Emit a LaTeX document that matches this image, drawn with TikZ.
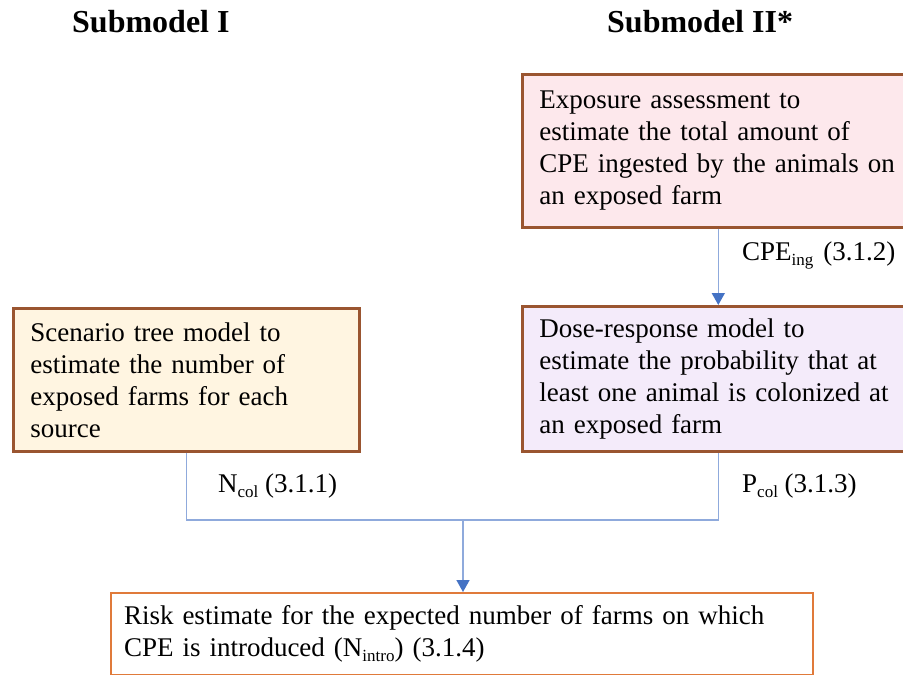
\documentclass[tikz,border=0pt]{standalone}
\usepackage{fontspec}
\setmainfont{Liberation Serif}
\usetikzlibrary{arrows.meta}
\definecolor{brownb}{HTML}{9A5530}
\definecolor{orangeb}{HTML}{E07A3A}
\definecolor{pinkf}{HTML}{FDE8EC}
\definecolor{creamf}{HTML}{FFF5E1}
\definecolor{lavf}{HTML}{F4EBFA}
\definecolor{blueline}{HTML}{8FAADC}
\definecolor{bluetip}{HTML}{4472C4}
\newcommand{\lowsub}[1]{\raisebox{-5pt}{\fontsize{17}{17}\selectfont #1}}
\tikzset{
  box/.style={draw=brownb, line width=2.6pt, anchor=north west, align=left,
    inner xsep=17pt, inner ysep=0pt, font=\fontsize{27}{32}\selectfont},
  conn/.style={draw=blueline, line width=1.6pt},
  tip/.style={-{Triangle[width=13pt,length=12pt,fill=bluetip,color=bluetip]}},
  lbl/.style={anchor=base west, inner sep=0pt, font=\fontsize{27}{32}\selectfont},
  ttl/.style={anchor=base west, inner sep=0pt, font=\fontsize{32}{36}\selectfont\bfseries}
}
\begin{document}
\begin{tikzpicture}[x=1pt,y=-1pt]
\useasboundingbox (0,0) rectangle (903,675);
\node[ttl] (t1) at (72,32) {Submodel I};
\node[ttl] (t2) at (607,32) {Submodel II*};
\node[box, fill=pinkf, minimum width=392pt, minimum height=153pt, text width=358pt] (exp) at (521,73)
  {Exposure assessment to\\estimate the total amount of\\CPE ingested by the animals on\\an exposed farm};
\node[box, fill=creamf, minimum width=346pt, minimum height=143pt, text width=312pt] (scen) at (12,307)
  {Scenario tree model to\\estimate the number of\\exposed farms for each\\source};
\node[box, fill=lavf, minimum width=392pt, minimum height=145pt, text width=358pt] (dose) at (521,305)
  {Dose-response model to\\estimate the probability that at\\least one animal is colonized at\\an exposed farm};
\node[box, draw=orangeb, line width=2pt, fill=white, inner xsep=13pt, minimum width=702pt, minimum height=82pt, text width=676pt] (risk) at (110,592)
  {Risk estimate for the expected number of farms on which\\CPE is introduced (N\lowsub{intro}) (3.1.4)};
\coordinate (join) at (463,520);
\draw[conn, tip] (exp.south) -- (dose.north);
\draw[conn] (scen.south) |- (join) -| (dose.south);
\draw[conn, tip] (join) -- (join |- risk.north);
\node[lbl] (l1) at (742,260) {CPE\lowsub{ing}\hspace{10pt}(3.1.2)};
\node[lbl] (l2) at (218,492) {N\lowsub{col} (3.1.1)};
\node[lbl] (l3) at (742,492) {P\lowsub{col} (3.1.3)};
\end{tikzpicture}
\end{document}
